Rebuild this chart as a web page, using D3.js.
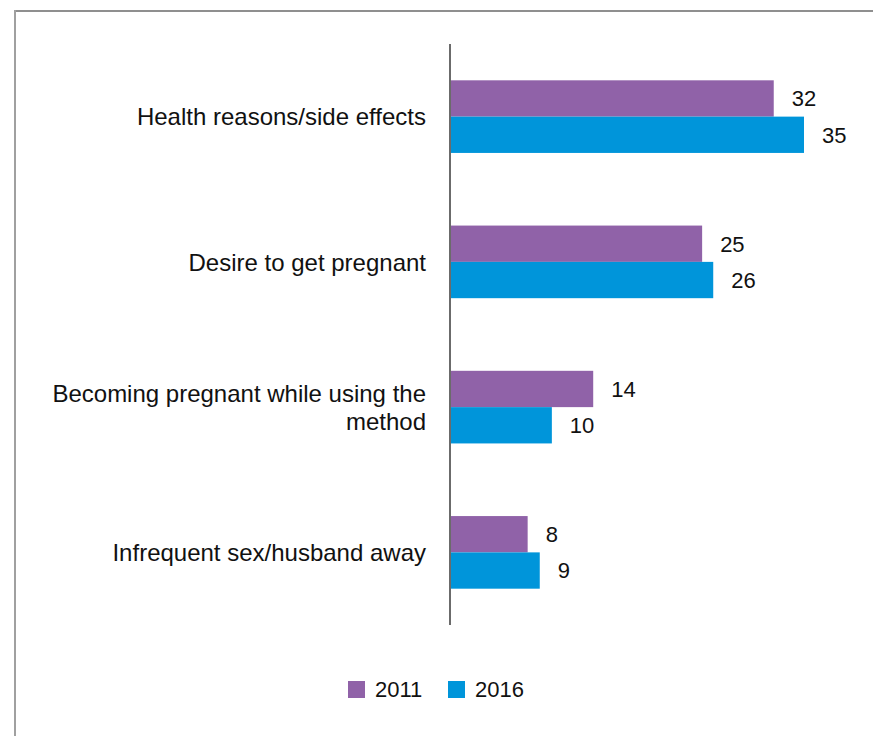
<!DOCTYPE html>
<html>
<head>
<meta charset="utf-8">
<script src="https://cdn.jsdelivr.net/npm/d3@7"></script>
<style>
  html, body { margin: 0; padding: 0; background: #fff; }
  svg { display: block; font-family: "Liberation Sans", Arial, sans-serif; }
</style>
</head>
<body>
<svg id="chart" width="873" height="736"></svg>
<script>
// ---- data ----
const categories = [
  "Health reasons/side effects",
  "Desire to get pregnant",
  "Becoming pregnant while using the method",
  "Infrequent sex/husband away"
];
const seriesNames = ["2011", "2016"];
const values2011 = [32, 24.9, 14.1, 7.6];
const values2016 = [35, 26, 10, 8.8];
const seriesColors = ["#9062A8", "#0095DA"];

const seriesValues = [values2011, values2016];
const data = categories.map((c, i) => ({
  category: c,
  values: seriesNames.map((s, j) => ({ series: s, value: seriesValues[j][i] }))
}));

const svg = d3.select("#chart");
const W = 873, H = 736;

// frame
svg.append("line").attr("x1", 14).attr("x2", W).attr("y1", 11).attr("y2", 11)
  .attr("stroke", "#8f8f8f").attr("stroke-width", 2);
svg.append("line").attr("x1", 15).attr("x2", 15).attr("y1", 10).attr("y2", H)
  .attr("stroke", "#a0a0a0").attr("stroke-width", 2);

const x = d3.scaleLinear().domain([0, 35]).range([451, 804]);
const y = d3.scaleBand().domain(categories).range([44, 625])
  .paddingInner(0.5).paddingOuter(0.25);
const ySub = d3.scaleBand().domain(seriesNames).range([0, y.bandwidth()]);
const color = d3.scaleOrdinal().domain(seriesNames).range(seriesColors);

const groups = svg.append("g").selectAll("g").data(data).join("g")
  .attr("transform", d => `translate(0,${y(d.category)})`);

groups.selectAll("rect").data(d => d.values).join("rect")
  .attr("x", x(0))
  .attr("y", d => ySub(d.series))
  .attr("width", d => x(d.value) - x(0))
  .attr("height", ySub.bandwidth())
  .attr("fill", d => color(d.series));

groups.selectAll("text.val").data(d => d.values).join("text")
  .attr("class", "val")
  .attr("x", d => x(d.value) + 18)
  .attr("y", d => ySub(d.series) + ySub.bandwidth() / 2)
  .attr("dy", "0.36em")
  .attr("font-size", 22)
  .attr("fill", "#111")
  .text(d => d3.format(".0f")(d.value));

// axis (left, no ticks)
const yAxis = d3.axisLeft(y).tickSize(0).tickPadding(24);
const ax = svg.append("g").attr("transform", `translate(${x(0) - 1},0)`).call(yAxis);
ax.select(".domain").attr("stroke", "#6b6b6b").attr("stroke-width", 2)
  .attr("d", `M0,44V625`);
ax.selectAll(".tick text")
  .attr("font-size", 24)
  .attr("font-family", "\"Liberation Sans\", Arial, sans-serif")
  .attr("fill", "#111")
  .each(function () { wrap(d3.select(this), 400); });

function wrap(text, width) {
  const words = text.text().split(/\s+/);
  const xPos = text.attr("x");
  text.text(null);
  let line = [];
  const lines = [];
  let tspan = text.append("tspan");
  words.forEach(w => {
    line.push(w);
    tspan.text(line.join(" "));
    if (tspan.node().getComputedTextLength() > width && line.length > 1) {
      line.pop();
      lines.push(line.join(" "));
      line = [w];
      tspan.text(w);
    }
  });
  lines.push(line.join(" "));
  text.text(null);
  const lh = 28;
  const off = -(lines.length - 1) * lh / 2;
  lines.forEach((l, i) => {
    text.append("tspan").attr("x", xPos)
      .attr("y", off + i * lh)
      .attr("dy", "0.36em")
      .text(l);
  });
  text.attr("dy", null);
}

// legend
const legendX = [348, 448];
const legend = svg.append("g").selectAll("g").data(seriesNames).join("g")
  .attr("transform", (d, i) => `translate(${legendX[i]},681)`);
legend.append("rect").attr("width", 17).attr("height", 17).attr("fill", d => color(d));
legend.append("text").attr("x", 27).attr("y", 8.5).attr("dy", "0.36em")
  .attr("font-size", 22).attr("fill", "#111").text(d => d);
</script>
</body>
</html>
